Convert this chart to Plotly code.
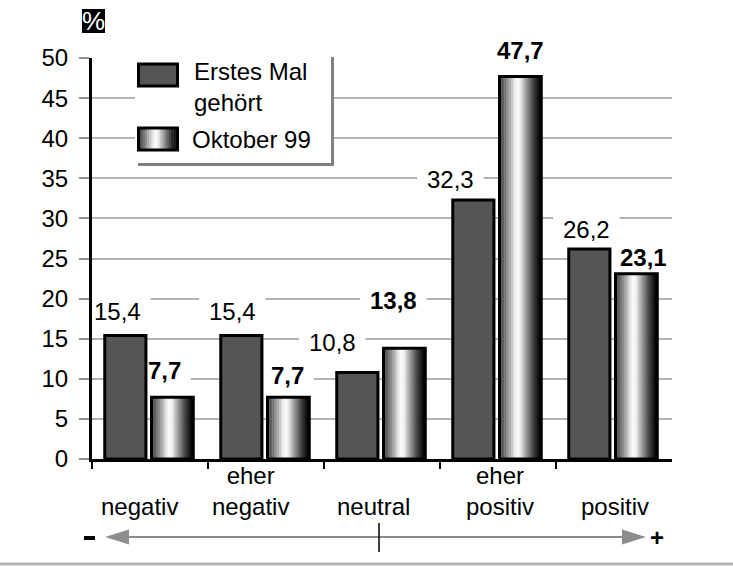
import plotly.graph_objects as go

# ---- data ----
categories = ["negativ", "eher<br>negativ", "neutral", "eher<br>positiv", "positiv"]
erstes_mal = [15.4, 15.4, 10.8, 32.3, 26.2]
oktober_99 = [7.7, 7.7, 13.8, 47.7, 23.1]
series_names = ["Erstes Mal<br>gehört", "Oktober 99"]
y_ticks = [0, 5, 10, 15, 20, 25, 30, 35, 40, 45, 50]

# ---- geometry / style ----
FONT = "Liberation Sans, Arial, Helvetica, sans-serif"
W_FIG, H_FIG = 733, 566
L, R, T, B = 92, 672, 58, 459          # plot area in pixels
PW, PH = R - L, B - T

DARK = "#555555"
GRID = "#b4b4b4"
DARK_OFF, DARK_W = -0.39, 0.355
GRAD_OFF, GRAD_W = 0.013, 0.36
N_SLICES = 18

# grey profile across the cylinder-shaded bar (position 0..1 -> grey level)
SHADE_STOPS = [(0.0, 60), (0.1, 100), (0.2, 145), (0.3, 195), (0.38, 238),
               (0.45, 255), (0.52, 230), (0.6, 180), (0.7, 125), (0.8, 75),
               (0.88, 30), (1.0, 0)]

# label nudges in pixels (dx, dy above bar top)
DARK_LABEL_SHIFT = [(-8, 24), (-9, 24), (-25, 30), (-23, 20), (-3, 19)]
GRAD_LABEL_SHIFT = [(-8, 27), (-1, 22), (-11, 48), (0, 26), (7, 16)]
CAT_LABEL_SHIFT = [-11, -16, -9, 2, 1]


def shade(t):
    for (t0, g0), (t1, g1) in zip(SHADE_STOPS[:-1], SHADE_STOPS[1:]):
        if t0 <= t <= t1:
            g = g0 + (g1 - g0) * (t - t0) / (t1 - t0)
            g = int(round(g))
            return f"rgb({g},{g},{g})"
    return "rgb(0,0,0)"


def px(xp):
    return (xp - L) / PW


def py(yp):
    return (B - yp) / PH


def fmt(v):
    return f"{v:.1f}".replace(".", ",")


pos = list(range(len(categories)))
fig = go.Figure()

# first series: flat dark bars
fig.add_trace(go.Bar(
    x=pos, y=erstes_mal, offset=DARK_OFF, width=DARK_W,
    marker=dict(color=DARK, line=dict(color="black", width=3)),
    name=series_names[0], showlegend=False, hoverinfo="skip"))

# second series: shaded bars built from thin vertical slices
sw = GRAD_W / N_SLICES
for k in range(N_SLICES):
    c = shade((k + 0.5) / N_SLICES)
    fig.add_trace(go.Bar(
        x=pos, y=oktober_99, offset=GRAD_OFF + k * sw, width=sw,
        marker=dict(color=c, line=dict(color=c, width=0.6)),
        showlegend=False, hoverinfo="skip"))
fig.add_trace(go.Bar(
    x=pos, y=oktober_99, offset=GRAD_OFF, width=GRAD_W,
    marker=dict(color="rgba(0,0,0,0)", line=dict(color="black", width=3)),
    name=series_names[1], showlegend=False, hoverinfo="skip"))

shapes = []
annotations = []

# value labels (white boxes interrupt the gridlines behind them)
for series, off, w, shifts, bold in (
        (erstes_mal, DARK_OFF, DARK_W, DARK_LABEL_SHIFT, False),
        (oktober_99, GRAD_OFF, GRAD_W, GRAD_LABEL_SHIFT, True)):
    for i, v in enumerate(series):
        xc = pos[i] + off + w / 2
        dx, dy = shifts[i]
        txt = fmt(v)
        hw = 6.8 * len(txt) + 6
        shapes.append(dict(
            type="rect", layer="between", xref="x", yref="y",
            xsizemode="pixel", ysizemode="pixel", xanchor=xc, yanchor=v,
            x0=dx - hw, x1=dx + hw, y0=dy - 15, y1=dy + 15,
            fillcolor="white", line=dict(width=0)))
        annotations.append(dict(
            x=xc, y=v, xref="x", yref="y", xshift=dx, yshift=dy,
            text=f"<b>{txt}</b>" if bold else txt, showarrow=False,
            xanchor="center", yanchor="middle",
            font=dict(family=FONT, size=24, color="black")))

# category labels under the axis
for i, c in enumerate(categories):
    annotations.append(dict(
        x=pos[i], y=py(522), xref="x", yref="paper", xshift=CAT_LABEL_SHIFT[i],
        text=c, showarrow=False, xanchor="center", yanchor="bottom",
        font=dict(family=FONT, size=24, color="black")))

# "%" unit box
shapes.append(dict(type="rect", xref="paper", yref="paper",
                   x0=px(82), x1=px(105), y0=py(33), y1=py(9),
                   fillcolor="black", line=dict(width=0)))
annotations.append(dict(x=px(93.5), y=py(21), xref="paper", yref="paper",
                        text="%", showarrow=False, xanchor="center", yanchor="middle",
                        font=dict(family=FONT, size=26, color="white")))

# legend box with shadow
shapes.append(dict(type="rect", xref="paper", yref="paper", layer="above",
                   x0=px(138), x1=px(334), y0=py(166), y1=py(57),
                   fillcolor="#808080", line=dict(width=0)))
shapes.append(dict(type="rect", xref="paper", yref="paper", layer="above",
                   x0=px(135), x1=px(331), y0=py(163), y1=py(52),
                   fillcolor="white", line=dict(width=0)))
shapes.append(dict(type="rect", xref="paper", yref="paper", layer="above",
                   x0=px(138.5), x1=px(177.5), y0=py(86), y1=py(64),
                   fillcolor=DARK, line=dict(color="black", width=3)))
lw = (177.5 - 138.5) / N_SLICES
for k in range(N_SLICES):
    c = shade((k + 0.5) / N_SLICES)
    shapes.append(dict(type="rect", xref="paper", yref="paper", layer="above",
                       x0=px(138.5 + k * lw), x1=px(138.5 + (k + 1) * lw + 0.4),
                       y0=py(150), y1=py(128),
                       fillcolor=c, line=dict(width=0)))
shapes.append(dict(type="rect", xref="paper", yref="paper", layer="above",
                   x0=px(138.5), x1=px(177.5), y0=py(150), y1=py(128),
                   fillcolor="rgba(0,0,0,0)", line=dict(color="black", width=3)))
annotations.append(dict(x=px(192), y=py(87), xref="paper", yref="paper",
                        text=series_names[0], showarrow=False,
                        xanchor="left", yanchor="middle", align="left",
                        font=dict(family=FONT, size=24, color="black")))
annotations.append(dict(x=px(190), y=py(139), xref="paper", yref="paper",
                        text=series_names[1], showarrow=False,
                        xanchor="left", yanchor="middle",
                        font=dict(family=FONT, size=24, color="black")))

# scale arrow "-  <-------|------->  +"
ay = 537
shapes.append(dict(type="line", xref="paper", yref="paper",
                   x0=px(128), x1=px(624), y0=py(ay), y1=py(ay),
                   line=dict(color="#8c8c8c", width=2)))
shapes.append(dict(type="path", xref="paper", yref="paper",
                   path=f"M {px(105)},{py(ay)} L {px(129)},{py(ay - 7.5)} "
                        f"L {px(129)},{py(ay + 7.5)} Z",
                   fillcolor="#8c8c8c", line=dict(width=0)))
shapes.append(dict(type="path", xref="paper", yref="paper",
                   path=f"M {px(646)},{py(ay)} L {px(622)},{py(ay - 7.5)} "
                        f"L {px(622)},{py(ay + 7.5)} Z",
                   fillcolor="#8c8c8c", line=dict(width=0)))
shapes.append(dict(type="line", xref="paper", yref="paper",
                   x0=px(379), x1=px(379), y0=py(523), y1=py(552),
                   line=dict(color="black", width=1.5)))
# minus sign as a short heavy bar, plus sign as bold text
shapes.append(dict(type="line", xref="paper", yref="paper",
                   x0=px(84), x1=px(95), y0=py(538), y1=py(538),
                   line=dict(color="black", width=4)))
annotations.append(dict(x=px(657), y=py(ay), xref="paper", yref="paper",
                        text="<b>+</b>", showarrow=False,
                        xanchor="center", yanchor="middle",
                        font=dict(family=FONT, size=24, color="black")))

# bottom rule
shapes.append(dict(type="line", xref="paper", yref="paper",
                   x0=px(0), x1=px(W_FIG), y0=py(564), y1=py(564),
                   line=dict(color=GRID, width=3)))

fig.update_layout(
    width=W_FIG, height=H_FIG,
    margin=dict(l=L, r=W_FIG - R, t=T, b=H_FIG - B, pad=0),
    paper_bgcolor="white", plot_bgcolor="white",
    barmode="overlay", showlegend=False,
    font=dict(family=FONT, size=24, color="black"),
    shapes=shapes, annotations=annotations,
    xaxis=dict(range=[-0.5, len(categories) - 0.5], showgrid=False, zeroline=False,
               tickmode="array", tickvals=[i - 0.5 for i in pos], ticktext=[""] * len(pos),
               ticks="outside", ticklen=7, tickwidth=2, tickcolor="black",
               showline=True, linecolor="black", linewidth=3, fixedrange=True),
    yaxis=dict(range=[0, 50], tickmode="array", tickvals=y_ticks,
               ticktext=[str(t) for t in y_ticks],
               showgrid=True, gridcolor=GRID, gridwidth=2, zeroline=False,
               ticks="outside", ticklen=10, tickwidth=2, tickcolor="#909090",
               ticklabelstandoff=6,
               showline=True, linecolor="black", linewidth=3,
               tickfont=dict(family=FONT, size=24, color="black"), fixedrange=True),
)

fig.write_html("out.html")
